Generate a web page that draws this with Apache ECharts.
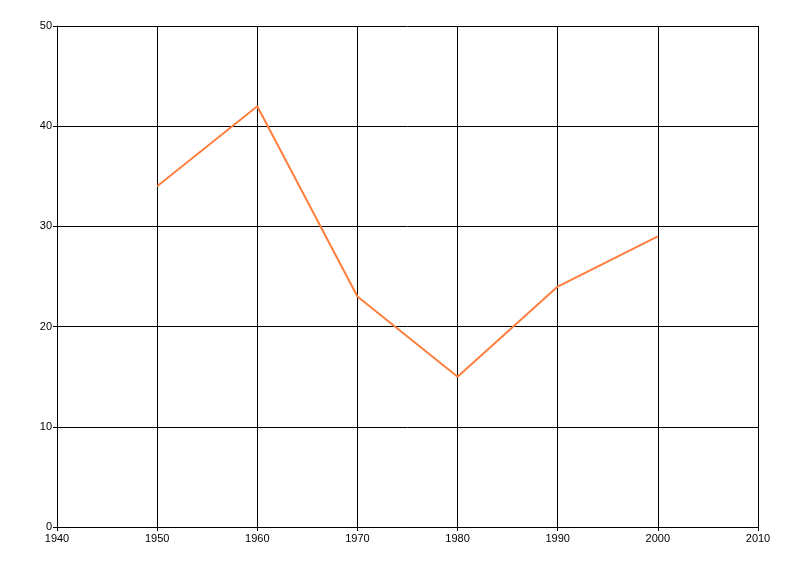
<!DOCTYPE html>
<html><head><meta charset="utf-8">
<script src="https://cdn.jsdelivr.net/npm/echarts@6/dist/echarts.min.js"></script>
<style>html,body{margin:0;padding:0;background:#fff}#c{width:800px;height:576px}</style>
</head><body><div id="c"></div>
<script>
const years = [1950, 1960, 1970, 1980, 1990, 2000];
const values = [34, 42, 23, 15, 24, 29];
const chart = echarts.init(document.getElementById('c'), null, {renderer: 'canvas'});
const axisCommon = {
  axisLine: {show: true, lineStyle: {color: '#000', width: 1}},
  axisTick: {show: true, length: 4, lineStyle: {color: '#000'}},
  splitLine: {show: true, lineStyle: {color: '#000', width: 1}},
  axisLabel: {color: '#000', fontFamily: 'Liberation Sans, Arial', fontSize: 11, formatter: v => String(v)}
};
chart.setOption({
  animation: false,
  grid: {left: 57, right: 42, top: 26, bottom: 49, containLabel: false},
  xAxis: Object.assign({type: 'value', min: 1940, max: 2010, interval: 10}, axisCommon,
    {axisLabel: Object.assign({}, axisCommon.axisLabel, {margin: 6})}),
  yAxis: Object.assign({type: 'value', min: 0, max: 50, interval: 10}, axisCommon,
    {axisLabel: Object.assign({}, axisCommon.axisLabel, {margin: 5})}),
  series: [{
    type: 'line',
    data: years.map((y, i) => [y, values[i]]),
    showSymbol: false,
    lineStyle: {color: '#FF7F3F', width: 2},
    itemStyle: {color: '#FF7F3F'}
  }]
});
</script></body></html>
